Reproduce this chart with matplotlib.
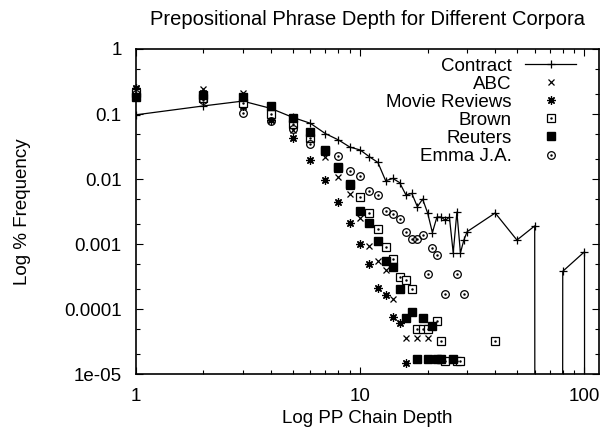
import numpy as np
import matplotlib.pyplot as plt
from matplotlib.ticker import LogLocator, NullFormatter, FixedLocator

plt.rcParams['font.family'] = ['Liberation Sans', 'DejaVu Sans']

# Contract: line with + markers (0 = empty bins, drawn as drops off the axis)
contract_x = [1, 2, 3, 4, 5, 6, 7, 8, 9, 10, 11, 12, 13, 14, 15, 16, 17, 18, 19, 20,
              21, 22, 23, 24, 25, 26, 27, 28, 29, 30, 40, 50, 60, 70, 80, 100, 110]
contract_y = [0.097, 0.133, 0.158, 0.122, 0.089, 0.072, 0.050, 0.040, 0.031, 0.028,
              0.022, 0.018, 0.0094, 0.0102, 0.0088, 0.0057, 0.0060, 0.00375, 0.0049, 0.0030,
              0.0015, 0.0026, 0.0026, 0.0023, 0.0026, 0.00073, 0.0031, 0.00073, 0.00115, 0.00155,
              0.0030, 0.00115, 0.0019, 0, 0.00038, 0.00076, 0]

abc_x = [1, 2, 3, 4, 5, 6, 7, 8, 9, 10, 11, 12, 13, 14, 16, 18, 20]
abc_y = [0.24, 0.24, 0.21, 0.085, 0.057, 0.043, 0.022, 0.0108, 0.0058, 0.0025,
         0.00093, 0.00054, 0.0004, 0.000145, 3.6e-5, 3.6e-5, 3.6e-5]

movie_x = [1, 2, 3, 4, 5, 6, 7, 8, 9, 10, 11, 12, 13, 14, 15, 16]
movie_y = [0.25, 0.21, 0.135, 0.08, 0.043, 0.0196, 0.0097, 0.0044, 0.0021, 0.0010,
           0.0005, 0.00021, 0.000165, 7.6e-5, 6.0e-5, 1.5e-5]

brown_x = [1, 2, 3, 4, 5, 6, 7, 8, 9, 10, 11, 12, 13, 14, 15, 16, 17, 18, 19, 20,
           22, 23, 24, 27, 28, 40]
brown_y = [0.21, 0.175, 0.146, 0.10, 0.069, 0.043, 0.027, 0.015, 0.0081, 0.0053,
           0.0030, 0.0017, 0.00091, 0.00058, 0.00031, 0.00028, 0.0002, 4.9e-5, 4.9e-5, 4.9e-5,
           6.6e-5, 3.2e-5, 1.6e-5, 1.6e-5, 1.6e-5, 3.2e-5]

reuters_x = [1, 2, 3, 4, 5, 6, 7, 8, 9, 10, 11, 12, 13, 14, 15, 16, 17, 18, 19, 20,
             21, 22, 23, 26]
reuters_y = [0.185, 0.196, 0.18, 0.135, 0.088, 0.052, 0.028, 0.0155, 0.0083, 0.0032,
             0.0021, 0.0011, 0.00055, 0.00045, 0.0002, 7.4e-5, 9.1e-5, 1.7e-5, 7.4e-5, 1.7e-5,
             5.4e-5, 1.7e-5, 1.7e-5, 1.7e-5]

emma_x = [1, 2, 3, 4, 5, 6, 7, 8, 9, 10, 11, 12, 13, 14, 15, 16, 17, 18, 19, 20,
          21, 22, 24, 27, 29]
emma_y = [0.20, 0.165, 0.103, 0.078, 0.058, 0.035, 0.028, 0.0226, 0.0133, 0.011,
          0.0066, 0.0057, 0.0032, 0.0029, 0.0024, 0.00155, 0.0012, 0.0012, 0.00138, 0.00034,
          0.00086, 0.00068, 0.00017, 0.00034, 0.00017]

fig = plt.figure(figsize=(6.05, 4.34), dpi=100)
ax = fig.add_axes([0.2243, 0.1382, 0.7657, 0.7489])
ax.set_xscale('log')
ax.set_yscale('log')

cy = np.array(contract_y, dtype=float)
cy[cy <= 0] = 1e-300
h_con, = ax.plot(contract_x, cy, color='black', lw=0.9, marker='+', ms=6, mew=0.9)

ms = 5
kw = dict(ls='none', clip_on=False)
h_abc, = ax.plot(abc_x, abc_y, marker='x', ms=ms, mew=0.9, color='black', **kw)
h_mov, = ax.plot(movie_x, movie_y, marker=(8, 2, 0), ms=ms + 1, mew=0.9, color='black', **kw)
h_bro1, = ax.plot(brown_x, brown_y, marker='s', ms=ms + 0.5, mew=0.9,
                  mfc='white', mec='black', **kw)
h_bro2, = ax.plot(brown_x, brown_y, marker='.', ms=1.5, color='black', **kw)
h_reu, = ax.plot(reuters_x, reuters_y, marker='s', ms=ms + 0.5, color='black', **kw)
h_emm1, = ax.plot(emma_x, emma_y, marker='o', ms=ms + 0.5, mew=0.9,
                  mfc='none', mec='black', **kw)
h_emm2, = ax.plot(emma_x, emma_y, marker='.', ms=1.5, color='black', **kw)

ax.set_xlim(1, 116)
ax.set_ylim(1e-5, 1)

ax.xaxis.set_major_locator(FixedLocator([1, 10, 100]))
ax.set_xticklabels(['1', '10', '100'])
ax.xaxis.set_minor_locator(LogLocator(base=10, subs=np.arange(2, 10)))
ax.xaxis.set_minor_formatter(NullFormatter())
ax.yaxis.set_major_locator(FixedLocator([1e-5, 1e-4, 1e-3, 1e-2, 0.1, 1]))
ax.set_yticklabels(['1e-05', '0.0001', '0.001', '0.01', '0.1', '1'])
ax.yaxis.set_minor_locator(LogLocator(base=10, subs=[2, 5]))
ax.yaxis.set_minor_formatter(NullFormatter())

ax.tick_params(which='both', direction='in', top=True, right=True, labelsize=13.5, pad=10)
ax.tick_params(which='major', length=5, width=0.8)
ax.tick_params(which='minor', length=2.8, width=0.8)
for s in ax.spines.values():
    s.set_linewidth(1.2)

ax.set_title('Prepositional Phrase Depth for Different Corpora', fontsize=14.5, pad=17)
ax.set_xlabel('Log PP Chain Depth', fontsize=13.5, labelpad=4)
ax.set_ylabel('Log % Frequency', fontsize=13.5, labelpad=24)

ax.legend([h_con, h_abc, h_mov, (h_bro1, h_bro2), h_reu, (h_emm1, h_emm2)],
          ['Contract', 'ABC', 'Movie Reviews', 'Brown', 'Reuters', 'Emma J.A.'],
          loc='upper right', bbox_to_anchor=(0.975, 1.008), frameon=False, markerfirst=False,
          fontsize=13.5, handlelength=2.7, handletextpad=0.75, labelspacing=0.05,
          borderaxespad=0.2)

fig.savefig('out.png', dpi=100)
